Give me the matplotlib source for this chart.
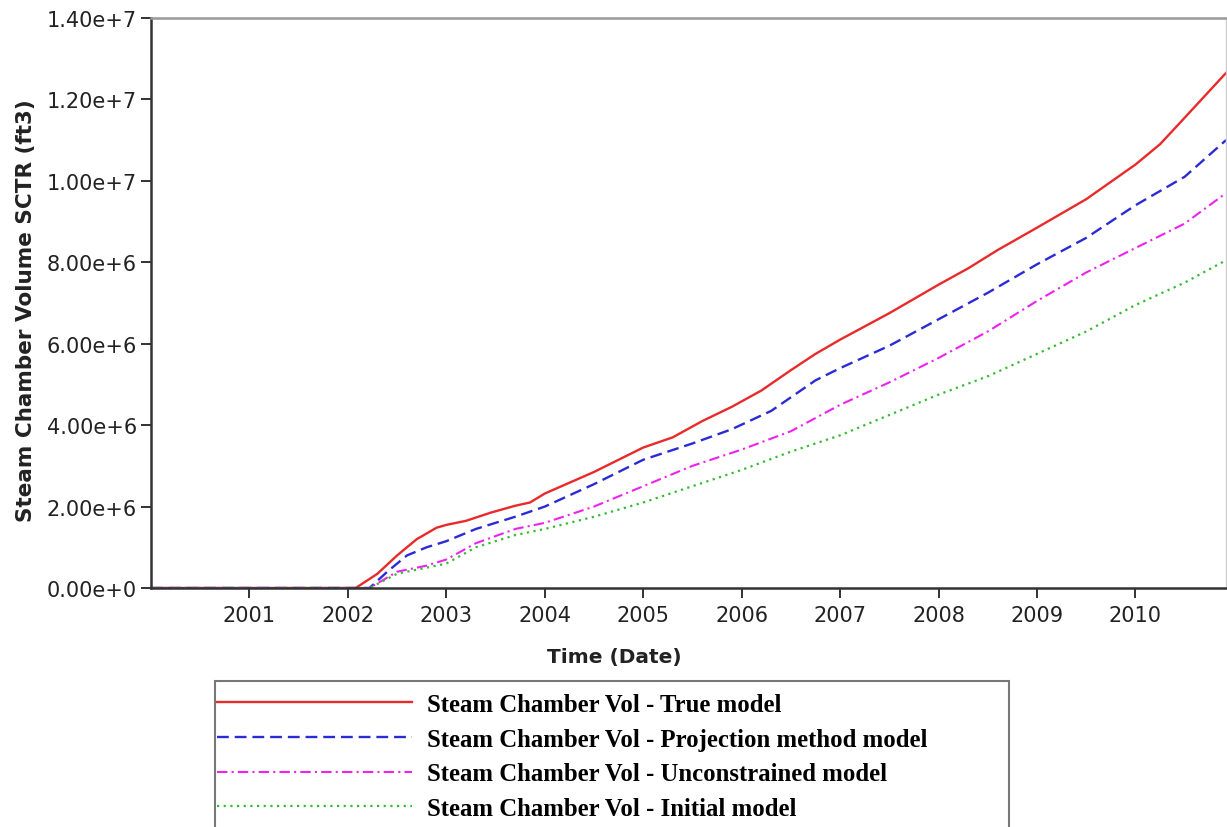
import matplotlib
matplotlib.use("Agg")
import matplotlib.pyplot as plt
from matplotlib.patches import Rectangle
import numpy as np

# time in decimal years, volumes in ft3
t_true = [2000.0, 2002.08, 2002.3, 2002.5, 2002.7, 2002.9, 2003.0, 2003.2, 2003.45, 2003.7,
          2003.85, 2004.0, 2004.5, 2005.0, 2005.3, 2005.6, 2005.9, 2006.2, 2006.5, 2006.75,
          2007.0, 2007.5, 2008.0, 2008.3, 2008.6, 2009.0, 2009.5, 2010.0, 2010.25, 2010.5, 2010.92]
v_true = [0, 0, 0.35e6, 0.8e6, 1.2e6, 1.48e6, 1.55e6, 1.65e6, 1.85e6, 2.02e6,
          2.1e6, 2.32e6, 2.85e6, 3.45e6, 3.7e6, 4.1e6, 4.45e6, 4.85e6, 5.35e6, 5.75e6,
          6.1e6, 6.75e6, 7.45e6, 7.85e6, 8.3e6, 8.85e6, 9.55e6, 10.4e6, 10.9e6, 11.55e6, 12.65e6]

t_proj = [2000.0, 2002.22, 2002.4, 2002.6, 2002.8, 2003.0, 2003.3, 2003.7, 2004.0, 2004.5,
          2005.0, 2005.5, 2005.9, 2006.3, 2006.75, 2007.0, 2007.5, 2008.0, 2008.5, 2009.0,
          2009.5, 2010.0, 2010.5, 2010.92]
v_proj = [0, 0, 0.4e6, 0.8e6, 1.0e6, 1.15e6, 1.45e6, 1.75e6, 2.0e6, 2.55e6,
          3.15e6, 3.55e6, 3.9e6, 4.35e6, 5.1e6, 5.4e6, 5.95e6, 6.6e6, 7.25e6, 7.95e6,
          8.6e6, 9.4e6, 10.1e6, 11.0e6]

t_unc = [2000.0, 2002.22, 2002.5, 2002.8, 2003.0, 2003.3, 2003.7, 2004.0, 2004.5, 2005.0,
         2005.5, 2006.0, 2006.5, 2007.0, 2007.5, 2008.0, 2008.5, 2009.0, 2009.5, 2010.0,
         2010.5, 2010.92]
v_unc = [0, 0, 0.4e6, 0.55e6, 0.7e6, 1.1e6, 1.45e6, 1.6e6, 2.0e6, 2.5e6,
         3.0e6, 3.4e6, 3.85e6, 4.5e6, 5.05e6, 5.65e6, 6.3e6, 7.05e6, 7.75e6, 8.35e6,
         8.95e6, 9.7e6]

t_init = [2000.0, 2002.22, 2002.5, 2003.0, 2003.3, 2003.7, 2004.0, 2004.5, 2005.0, 2005.5,
          2006.0, 2006.5, 2007.0, 2007.5, 2008.0, 2008.5, 2009.0, 2009.5, 2010.0, 2010.5,
          2010.92]
v_init = [0, 0, 0.35e6, 0.6e6, 1.0e6, 1.3e6, 1.45e6, 1.75e6, 2.1e6, 2.5e6,
          2.9e6, 3.35e6, 3.75e6, 4.25e6, 4.75e6, 5.2e6, 5.75e6, 6.3e6, 6.95e6, 7.5e6,
          8.05e6]

labels = ["Steam Chamber Vol - True model",
          "Steam Chamber Vol - Projection method model",
          "Steam Chamber Vol - Unconstrained model",
          "Steam Chamber Vol - Initial model"]
years = list(range(2001, 2011))
yticks = [0, 2e6, 4e6, 6e6, 8e6, 1e7, 1.2e7, 1.4e7]
ytick_labels = ["0.00e+0", "2.00e+6", "4.00e+6", "6.00e+6", "8.00e+6", "1.00e+7", "1.20e+7", "1.40e+7"]

W, H = 1227, 828
fig = plt.figure(figsize=(W/100, H/100), dpi=100)
ax = fig.add_axes([151/W, 1-589/H, (1226-151)/W, (589-19)/H])

l1, = ax.plot(t_true, v_true, color='#e82a2a', lw=1.7, ls='-')
l2, = ax.plot(t_proj, v_proj, color='#2b2bd6', lw=1.7, ls=(0, (5, 2.5)))
l3, = ax.plot(t_unc, v_unc, color='#ee22ee', lw=1.5, ls=(0, (5, 2, 1, 2)))
l4, = ax.plot(t_init, v_init, color='#33bb33', lw=1.6, ls=(0, (1, 2)))

ax.set_xlim(2000, 2010.92)
ax.set_ylim(0, 1.4e7)
ax.set_xticks(years)
ax.set_xticklabels([str(y) for y in years])
ax.set_yticks(yticks)
ax.set_yticklabels(ytick_labels)
ax.tick_params(axis='both', labelsize=15, colors='#222222', length=7, width=1.3, direction='out')
ax.tick_params(axis='y', pad=3)
ax.tick_params(axis='x', pad=5)

for s in ['left', 'bottom']:
    ax.spines[s].set_color('#333333')
    ax.spines[s].set_linewidth(1.8)
ax.spines['top'].set_color('#999999')
ax.spines['top'].set_linewidth(1.8)
ax.spines['right'].set_color('#cccccc')
ax.spines['right'].set_linewidth(1.0)

fig.text(26/W, 1-311/H, "Steam Chamber Volume SCTR (ft3)", rotation=90, fontsize=15.5,
         fontweight='bold', color='#222222', ha='center', va='center')
fig.text(614/W, 1-658/H, "Time (Date)", fontsize=14.5, fontweight='bold',
         color='#222222', ha='center', va='center')

# legend box (bottom cut off by the figure edge)
fig.patches.append(Rectangle((215/W, -0.05), (1009-215)/W, (1-682/H) + 0.05,
                             transform=fig.transFigure, fill=False, edgecolor='#777777',
                             lw=1.5, clip_on=False))
fig.legend([l1, l2, l3, l4], labels, loc='upper left',
           bbox_to_anchor=(217/W, 1-694/H), frameon=False, borderpad=0, borderaxespad=0,
           handlelength=7.9, handletextpad=0.6, labelspacing=0.47,
           prop={'family': 'Liberation Serif', 'weight': 'bold', 'size': 17.8})

fig.savefig("out.png", dpi=100)
